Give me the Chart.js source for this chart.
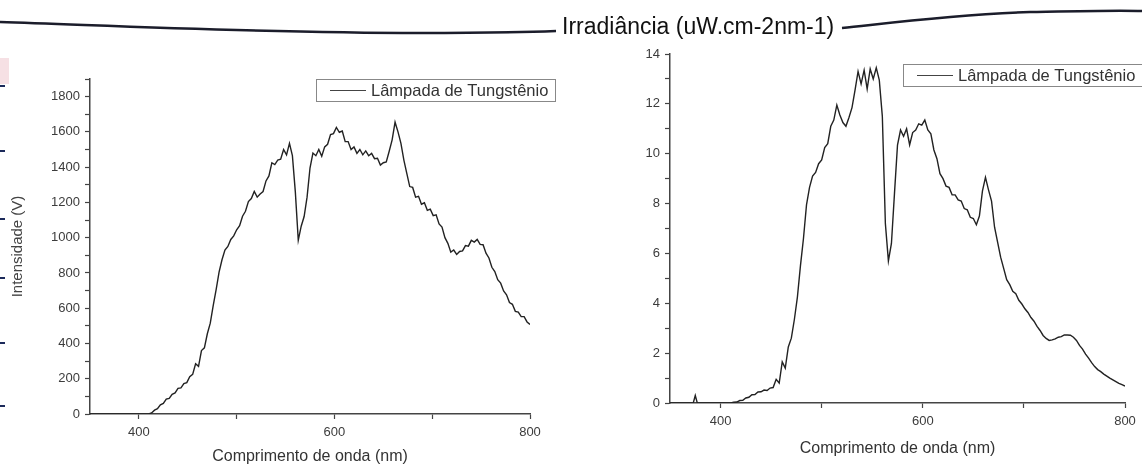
<!DOCTYPE html>
<html>
<head>
<meta charset="utf-8">
<script src="https://cdn.jsdelivr.net/npm/chart.js@4.4.1/dist/chart.umd.min.js"></script>
<style>
  html, body { margin: 0; padding: 0; background: #fff; }
  body { width: 1142px; height: 468px; position: relative; overflow: hidden; font-family: "Liberation Sans", Arial, sans-serif; }
  .pane { position: absolute; top: 0; height: 468px; filter: blur(0.4px); }
  #paneA { left: 0; width: 560px; }
  #paneB { left: 580px; width: 562px; }
  #heading { position: absolute; left: 562px; top: 13px; font-size: 23px; color: #111; white-space: nowrap; filter: blur(0.3px); }
  #strokes { position: absolute; left: 0; top: 0; }
  .mark { position: absolute; left: 0; width: 5px; height: 2px; background: #1c2a5a; }
</style>
</head>
<body>
<svg id="strokes" width="1142" height="468">
  <path d="M0,22 C120,26 260,33 420,33 C480,33 530,32 556,31" stroke="#1b1d2b" stroke-width="2.5" fill="none"/>
  <path d="M842,28 C890,23 950,15 1030,12 C1080,11 1120,10 1142,11" stroke="#1b1d2b" stroke-width="2.5" fill="none"/>
  <rect x="0" y="58" width="9" height="26" fill="#f6e0e4"/>
</svg>
<div class="mark" style="top:85px"></div>
<div class="mark" style="top:150px"></div>
<div class="mark" style="top:218px"></div>
<div class="mark" style="top:277px"></div>
<div class="mark" style="top:342px"></div>
<div class="mark" style="top:405px"></div>
<div id="heading">Irradiância (uW.cm-2nm-1)</div>
<div class="pane" id="paneA"><canvas id="chartA"></canvas></div>
<div class="pane" id="paneB"><canvas id="chartB"></canvas></div>
<script>
// comprimentos de onda da varredura (nm)
const gridNm = [
  410, 413, 416, 419, 422, 425, 428, 431, 434, 437,
  440, 443, 446, 449, 452, 455, 458, 461, 464, 467,
  470, 473, 476, 479, 482, 485, 488, 491, 494, 497,
  500, 503, 506, 509, 512, 515, 518, 521, 524, 527,
  530, 533, 536, 539, 542, 545, 548, 551, 554, 557,
  560, 563, 566, 569, 572, 575, 578, 581, 584, 587,
  590, 593, 596, 599, 602, 605, 608, 611, 614, 617,
  620, 623, 626, 629, 632, 635, 638, 641, 644, 647,
  650, 653, 656, 659, 662, 665, 668, 671, 674, 677,
  680, 683, 686, 689, 692, 695, 698, 701, 704, 707,
  710, 713, 716, 719, 722, 725, 728, 731, 734, 737,
  740, 743, 746, 749, 752, 755, 758, 761, 764, 767,
  770, 773, 776, 779, 782, 785, 788, 791, 794, 797,
  800
];

// intensidade medida no detector (V)
const leadNmA = [350, 407];
const leadA = [0, 0];
const intensidade = [
  0, 6, 22, 30, 52, 60, 84, 88, 112, 120,
  145, 148, 172, 178, 212, 225, 285, 270, 360, 375,
  455, 515, 615, 705, 805, 875, 930, 950, 990, 1010,
  1045, 1068, 1122, 1150, 1205, 1222, 1262, 1230, 1248, 1262,
  1322, 1350, 1425, 1415, 1440, 1445, 1500, 1470, 1535, 1465,
  1260, 985, 1065, 1120, 1230, 1395, 1480, 1465, 1500, 1462,
  1515, 1530, 1585, 1590, 1625, 1598, 1605, 1545, 1545, 1500,
  1515, 1478, 1500, 1470, 1492, 1465, 1478, 1448, 1450, 1412,
  1425, 1430, 1490, 1555, 1655, 1600, 1535, 1440, 1365, 1290,
  1285, 1230, 1235, 1190, 1198, 1155, 1162, 1125, 1130, 1078,
  1060, 1000, 968, 918, 930, 905, 922, 925, 955, 952,
  985, 975, 990, 962, 960, 912, 885, 832, 808, 762,
  742, 698, 676, 632, 622, 582, 578, 552, 552, 522,
  508
];

// irradiância espectral (uW.cm-2nm-1)
const leadNmB = [350, 373, 375, 377, 407];
const leadB = [0, 0, 0.3, 0, 0];
const irradiancia = [
  0, 0.03, 0.04, 0.1, 0.11, 0.2, 0.23, 0.33, 0.34, 0.44,
  0.45, 0.52, 0.5, 0.6, 0.62, 0.95, 0.8, 1.65, 1.4, 2.25,
  2.6, 3.35, 4.25, 5.5, 6.6, 7.95, 8.65, 9.1, 9.25, 9.6,
  9.75, 10.25, 10.4, 11.1, 11.35, 11.95, 11.55, 11.25, 11.1, 11.45,
  11.85, 12.55, 13.3, 12.8, 13.35, 12.6, 13.4, 13.0, 13.45, 12.95,
  11.5, 7.2, 5.7, 6.4, 8.4, 10.35, 10.95, 10.7, 11.0, 10.35,
  10.85, 10.95, 11.2, 11.15, 11.35, 10.95, 10.8, 10.15, 9.8, 9.2,
  9.0, 8.7, 8.65, 8.35, 8.35, 8.15, 8.1, 7.8, 7.75, 7.45,
  7.4, 7.15, 7.5, 8.5, 9.05, 8.55, 8.1, 7.05, 6.45, 5.85,
  5.4, 4.95, 4.75, 4.48, 4.38, 4.12, 3.97, 3.78, 3.63, 3.43,
  3.28, 3.07, 2.91, 2.71, 2.59, 2.51, 2.53, 2.57, 2.64, 2.66,
  2.73, 2.73, 2.72, 2.64, 2.51, 2.31, 2.16, 1.96, 1.8, 1.62,
  1.46, 1.34, 1.26, 1.16, 1.08, 1.0, 0.93, 0.86, 0.79, 0.74,
  0.68
];

const legendLabel = 'Lâmpada de Tungstênio';
const xTitle = 'Comprimento de onda (nm)';
const yTitleA = 'Intensidade (V)';

// ticks: rotulados e intermediários
const xLabeled = [400, 600, 800];
const xMinor = [500, 700];
const yLabeledA = [0, 200, 400, 600, 800, 1000, 1200, 1400, 1600, 1800];
const yMinorA = [100, 300, 500, 700, 900, 1100, 1300, 1500, 1700, 1900];
const yLabeledB = [0, 2, 4, 6, 8, 10, 12, 14];
const yMinorB = [1, 3, 5, 7, 9, 11, 13];

const FONT = '"Liberation Sans", Arial, sans-serif';
const AXIS = '#444';

function toPoints(nm, vals) {
  return nm.map((w, i) => ({ x: w, y: vals[i] }));
}

// legenda com moldura, no estilo do Origin
const boxedLegend = {
  id: 'boxedLegend',
  afterDatasetsDraw(chart, args, opts) {
    const { ctx, chartArea } = chart;
    const ds = chart.data.datasets[0];
    const x = Math.round(chartArea.left + opts.dx);
    const y = Math.round(chartArea.top + opts.dy);
    const h = opts.height;
    ctx.save();
    ctx.fillStyle = '#fff';
    ctx.fillRect(x, y, opts.width, h);
    ctx.strokeStyle = '#888';
    ctx.lineWidth = 1;
    ctx.strokeRect(x + 0.5, y + 0.5, opts.width, h);
    ctx.strokeStyle = '#444';
    ctx.beginPath();
    ctx.moveTo(x + 14, y + h / 2 + 0.5);
    ctx.lineTo(x + 50, y + h / 2 + 0.5);
    ctx.stroke();
    ctx.fillStyle = '#333';
    ctx.font = '16.5px ' + FONT;
    ctx.textBaseline = 'middle';
    ctx.fillText(ds.label, x + 55, y + h / 2 + 1);
    ctx.restore();
  }
};

function makeChart(id, points, cfg) {
  const yTicks = cfg.yLabeled.concat(cfg.yMinor).sort((a, b) => a - b);
  const xTicks = xLabeled.concat(xMinor).sort((a, b) => a - b);
  return new Chart(document.getElementById(id), {
    type: 'line',
    data: {
      datasets: [{
        label: legendLabel,
        data: points,
        borderColor: '#222',
        borderWidth: 1.4,
        pointRadius: 0,
        tension: 0,
        fill: false
      }]
    },
    options: {
      responsive: true,
      maintainAspectRatio: false,
      animation: false,
      events: [],
      layout: { padding: cfg.padding },
      plugins: {
        legend: { display: false },
        tooltip: { enabled: false },
        boxedLegend: cfg.legend
      },
      scales: {
        x: {
          type: 'linear',
          min: 350,
          max: 800,
          afterBuildTicks: s => { s.ticks = xTicks.map(v => ({ value: v })); },
          afterFit: s => { s.height = cfg.xHeight; },
          border: { display: true, color: AXIS, width: 1.5 },
          grid: { drawOnChartArea: false, drawTicks: true, tickLength: 5, tickColor: AXIS, tickWidth: 1.2 },
          ticks: {
            autoSkip: false,
            maxRotation: 0,
            padding: 6,
            color: '#3c3c3c',
            font: { family: FONT, size: 13 },
            callback: v => xLabeled.includes(v) ? String(v) : ''
          },
          title: {
            display: true,
            text: xTitle,
            color: '#333',
            font: { family: FONT, size: 16 },
            padding: { top: 0, bottom: cfg.xTitlePad }
          }
        },
        y: {
          min: 0,
          max: cfg.yMax,
          afterBuildTicks: s => { s.ticks = yTicks.map(v => ({ value: v })); },
          afterFit: s => { s.width = 90; },
          border: { display: true, color: AXIS, width: 1.5 },
          grid: { drawOnChartArea: false, drawTicks: true, tickLength: 5, tickColor: AXIS, tickWidth: 1.2 },
          ticks: {
            autoSkip: false,
            padding: 5,
            color: '#3c3c3c',
            font: { family: FONT, size: 13 },
            callback: v => cfg.yLabeled.includes(v) ? String(v) : ''
          },
          title: {
            display: !!cfg.yTitle,
            text: cfg.yTitle || '',
            color: '#444',
            font: { family: FONT, size: 15 },
            padding: { top: 9, bottom: 0 }
          }
        }
      }
    },
    plugins: [boxedLegend]
  });
}

makeChart('chartA', toPoints(leadNmA.concat(gridNm), leadA.concat(intensidade)), {
  yMax: 1900,
  yLabeled: yLabeledA,
  yMinor: yMinorA,
  yTitle: yTitleA,
  padding: { left: 0, top: 79, right: 30, bottom: 0 },
  xHeight: 54,
  xTitlePad: 2,
  legend: { dx: 226, dy: 0, width: 239, height: 22 }
});

makeChart('chartB', toPoints(leadNmB.concat(gridNm), leadB.concat(irradiancia)), {
  yMax: 14,
  yLabeled: yLabeledB,
  yMinor: yMinorB,
  yTitle: null,
  padding: { left: 0, top: 54, right: 17, bottom: 0 },
  xHeight: 65,
  xTitlePad: 10,
  legend: { dx: 233, dy: 10, width: 300, height: 22 }
});
</script>
</body>
</html>
